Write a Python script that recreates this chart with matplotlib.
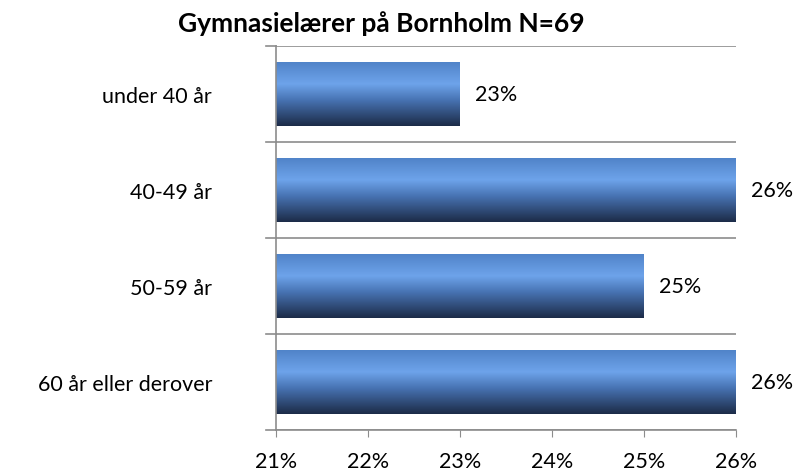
import matplotlib.pyplot as plt
import numpy as np
from matplotlib.colors import LinearSegmentedColormap

categories = ["under 40 år", "40-49 år", "50-59 år", "60 år eller derover"]
values = [23, 26, 25, 26]
xticks = [21, 22, 23, 24, 25, 26]
title = "Gymnasielærer på Bornholm N=69"

plt.rcParams['font.family'] = ['Lato', 'DejaVu Sans']

fig = plt.figure(figsize=(8, 4.77), dpi=100)
ax = fig.add_axes([0.345, 0.0964, 0.575, 0.805])

grad = LinearSegmentedColormap.from_list(
    "bar", [(0.0, (0.31, 0.51, 0.78)), (0.35, (0.43, 0.64, 0.92)),
            (0.6, (0.28, 0.45, 0.70)), (1.0, (0.11, 0.17, 0.28))])
g = np.linspace(0, 1, 256).reshape(-1, 1)

ypos = np.arange(len(categories))
bars = ax.barh(ypos, [v - xticks[0] for v in values], left=xticks[0], height=0.67,
               color='none', edgecolor='none')
for b, v, y in zip(bars, values, ypos):
    im = ax.imshow(g, cmap=grad, aspect='auto',
                   extent=[xticks[0], v, y + 0.335, y - 0.335], zorder=2)
    im.set_clip_path(b)
    ax.text(v + 0.16, y, f"{v}%", va='center', ha='left', fontsize=15.5)

ax.set_xlim(xticks[0], xticks[-1])
ax.set_ylim(len(categories) - 0.5, -0.5)
ax.set_xticks(xticks)
ax.set_xticklabels([f"{t}%" for t in xticks], fontsize=15.5)
ax.set_yticks(ypos)
ax.set_yticklabels(categories, fontsize=15.5)
ax.tick_params(axis='y', length=0, pad=46)
ax.tick_params(axis='x', length=5, color='#8c8c8c', pad=10, direction='out')

# boundary gridlines and left ticks
for yb in np.arange(-0.5, len(categories), 1.0):
    ax.axhline(yb, color='#8c8c8c', lw=1.2, zorder=1)
    ax.plot([-0.022, 0], [yb, yb], transform=ax.get_yaxis_transform(),
            color='#8c8c8c', lw=1.2, clip_on=False)

for s in ['top', 'right']:
    ax.spines[s].set_visible(False)
for s in ['left', 'bottom']:
    ax.spines[s].set_color('#8c8c8c')
    ax.spines[s].set_linewidth(1.2)

fig.text(0.477, 0.95, title, ha='center', va='center', fontsize=19, fontweight='bold')

fig.savefig("out.png", dpi=100)
